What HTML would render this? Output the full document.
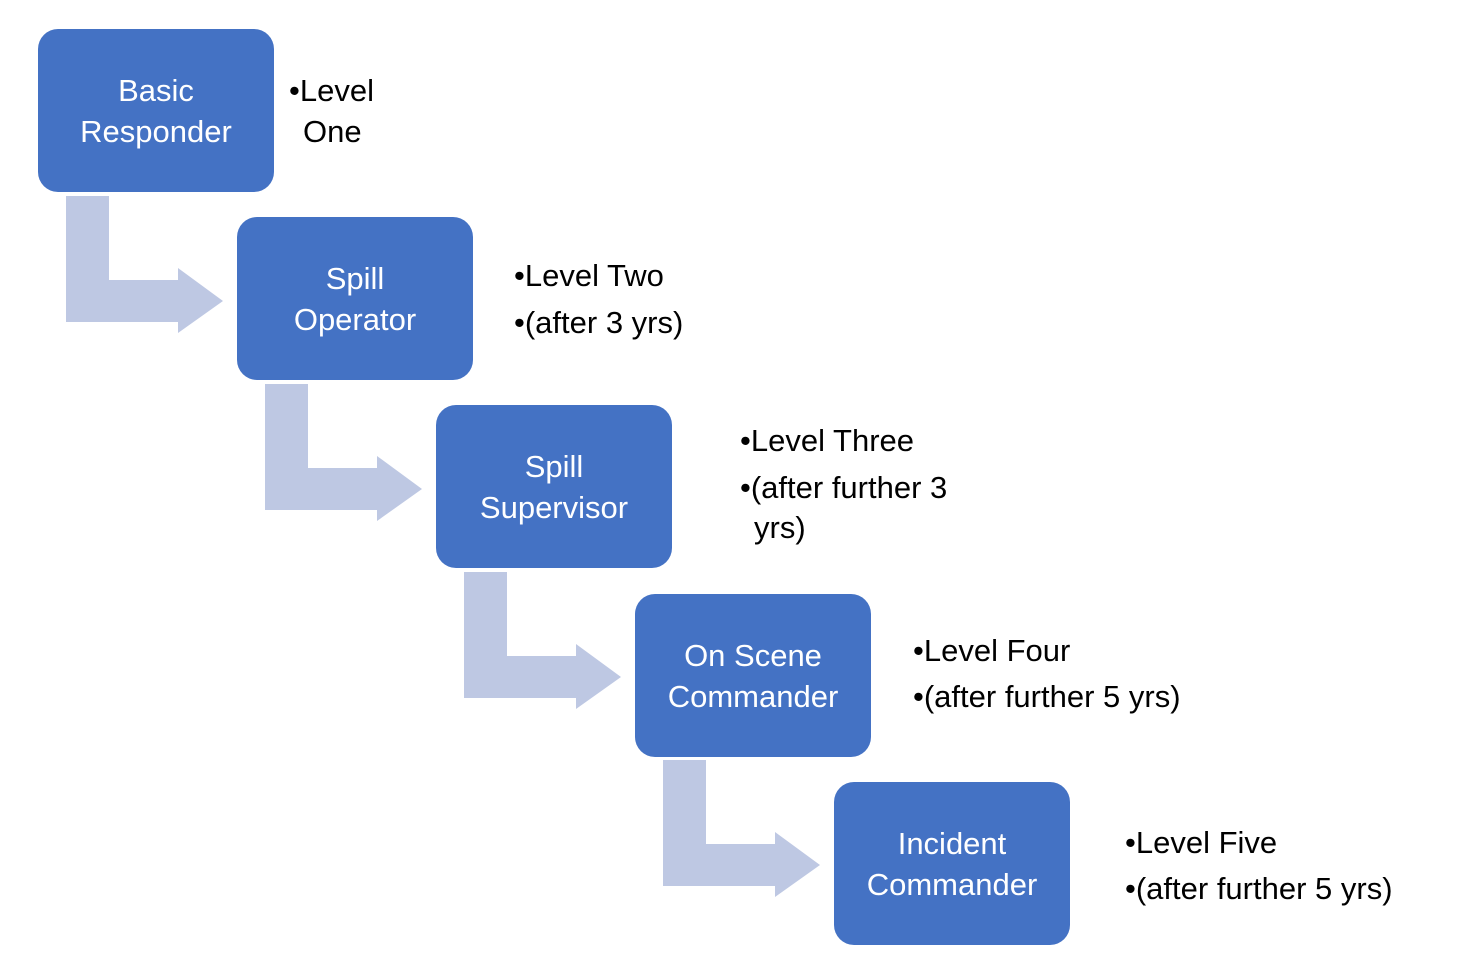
<!DOCTYPE html>
<html><head><meta charset="utf-8"><style>
body{margin:0;width:1462px;height:975px;background:#fff;position:relative;overflow:hidden;font-family:"Liberation Sans",sans-serif}
.b{position:absolute;width:236px;height:163px;background:#4472c4;border-radius:20px;color:#fff;font-size:31px;line-height:41px;display:flex;align-items:center;justify-content:center;text-align:center}
.t{position:absolute;font-size:31px;line-height:40px;color:#000;white-space:nowrap}
svg{position:absolute;left:0;top:0}
</style></head><body>
<svg width="1462" height="975">
<g fill="#bec8e3">
<path d="M66,196H109V280H178V268L223,301L178,333V322H66Z"/>
<path d="M66,196H109V280H178V268L223,301L178,333V322H66Z" transform="translate(199,188)"/>
<path d="M66,196H109V280H178V268L223,301L178,333V322H66Z" transform="translate(398,376)"/>
<path d="M66,196H109V280H178V268L223,301L178,333V322H66Z" transform="translate(597,564)"/>
</g></svg>
<div class="b" style="left:38px;top:29px">Basic<br>Responder</div>
<div class="b" style="left:237px;top:217px">Spill<br>Operator</div>
<div class="b" style="left:436px;top:405px">Spill<br>Supervisor</div>
<div class="b" style="left:635px;top:594px">On Scene<br>Commander</div>
<div class="b" style="left:834px;top:782px">Incident<br>Commander</div>
<div class="t" style="left:289px;top:71px">•Level</div>
<div class="t" style="left:303px;top:112px">One</div>
<div class="t" style="left:514px;top:256px">•Level Two</div>
<div class="t" style="left:514px;top:303px">•(after 3 yrs)</div>
<div class="t" style="left:740px;top:421px">•Level Three</div>
<div class="t" style="left:740px;top:468px">•(after further 3</div>
<div class="t" style="left:754px;top:508px">yrs)</div>
<div class="t" style="left:913px;top:631px">•Level Four</div>
<div class="t" style="left:913px;top:677px">•(after further 5 yrs)</div>
<div class="t" style="left:1125px;top:823px">•Level Five</div>
<div class="t" style="left:1125px;top:869px">•(after further 5 yrs)</div>
</body></html>
